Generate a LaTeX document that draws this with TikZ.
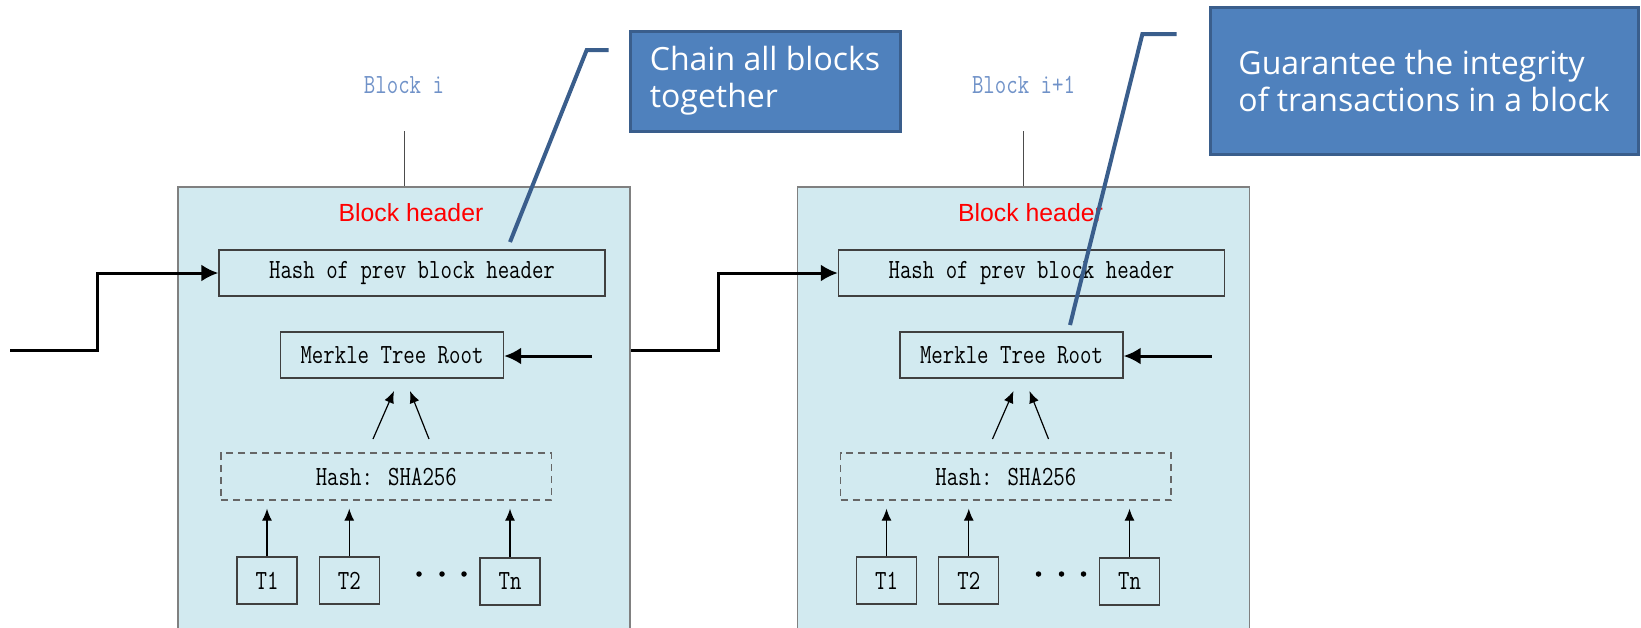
\documentclass[tikz,border=0pt]{standalone}
\usepackage{fontspec}
\usepackage{graphicx}
\newfontfamily\hdrfont{Liberation Sans}
\newfontfamily\notefont{Open Sans}
\usetikzlibrary{arrows.meta}
\definecolor{blockfill}{RGB}{210,234,240}
\definecolor{blockedge}{RGB}{128,128,128}
\definecolor{labelblue}{RGB}{112,146,200}
\definecolor{notefill}{RGB}{79,129,189}
\definecolor{noteedge}{RGB}{58,94,140}
\definecolor{hdrred}{RGB}{255,0,0}
% tall, narrow monospaced labels
\newcommand{\tallmono}[1]{\scalebox{1}[1.25]{#1}}
\begin{document}
\begin{tikzpicture}[x=1pt,y=-1pt,
  blockbox/.style={draw=blockedge, line width=1.5pt, fill=blockfill,
    minimum width=452pt, minimum height=449pt, anchor=north, inner sep=0pt},
  monofont/.style={font=\fontsize{22.2}{24}\selectfont\ttfamily},
  fieldbox/.style={monofont, draw=black!75, line width=1.3pt, fill=blockfill, inner sep=0pt},
  hashbox/.style={monofont, draw=black!60, line width=1.3pt,
    dash pattern=on 7pt off 5pt, inner sep=0pt},
  tbox/.style={fieldbox, minimum width=60pt, minimum height=47pt},
  blocklabel/.style={monofont, text=labelblue, anchor=base, inner sep=0pt},
  hdr/.style={font=\hdrfont\fontsize{24.8}{28}\selectfont, text=hdrred, anchor=base, inner sep=0pt},
  dot/.style={circle, fill=black, inner sep=0pt, minimum size=5.5pt},
  thin arrow/.style={-{Latex[length=12pt,width=10pt]}, line width=1.2pt},
  thick link/.style={-{Latex[length=17pt,width=17pt]}, line width=3pt},
  stem/.style={draw=black!70, line width=1pt},
  note/.style={draw=noteedge, line width=3pt, fill=notefill, text=white, align=left,
    inner sep=0pt, font=\notefont\fontsize{32}{37}\selectfont},
  leader/.style={draw=noteedge, line width=4pt},
]
\useasboundingbox (0,0) rectangle (1641,627);

% two blocks with identical content
\foreach \b/\dx/\name in {a/0/{Block i}, b/619.5/{Block i+1}} {
  \begin{scope}[xshift=\dx pt]
    \node[blockbox] (blk-\b) at (404,186) {};
    \node[blocklabel] (lbl-\b) at (404,93) {\tallmono{\name}};
    \coordinate (top-\b) at (404,131);
    \draw[stem] (top-\b) -- (blk-\b.north);
    \node[hdr] (hdr-\b) at (411,221) {Block header};
    \node[fieldbox, minimum width=386pt, minimum height=46pt] (prev-\b) at (412,273)
      {\tallmono{Hash of prev block header}};
    \node[fieldbox, minimum width=223pt, minimum height=46pt] (root-\b) at (392,355)
      {\tallmono{Merkle Tree Root}};
    \node[hashbox, minimum width=330.6pt, minimum height=47pt] (sha-\b) at (386.3,476.5)
      {\tallmono{Hash: SHA256}};
    \node[tbox] (t1-\b) at (267,580.5) {\tallmono{T1}};
    \node[tbox] (t2-\b) at (349.25,580.5) {\tallmono{T2}};
    \node[tbox] (tn-\b) at (510,581.5) {\tallmono{Tn}};
    \node[dot] (d1-\b) at (419,574) {};
    \node[dot] (d2-\b) at (442,574) {};
    \node[dot] (d3-\b) at (464,574) {};
    \foreach \t in {t1,t2,tn}
      \draw[thin arrow, shorten >=8pt] (\t-\b.north) -- (\t-\b.north |- sha-\b.south);
    % hashes combined into the root
    \coordinate (ha-\b) at (373,439);
    \coordinate (hb-\b) at (429,439);
    \coordinate (ra-\b) at (394,391);
    \coordinate (rb-\b) at (410,391);
    \draw[thin arrow] (ha-\b) -- (ra-\b);
    \draw[thin arrow] (hb-\b) -- (rb-\b);
    % root input
    \coordinate (in-\b) at (592,356);
    \draw[thick link] (in-\b) -- (in-\b -| root-\b.east);
  \end{scope}
}

% chain links between headers
\coordinate (entry) at (10,350);
\draw[thick link] (entry) -- ++(87.6,0) |- (prev-a.west);
\draw[thick link] (blk-a.east |- entry) -- ++(87.6,0) |- (prev-b.west);

% callouts
\node[note, minimum width=270pt, minimum height=100pt] (note1) at (765,81)
  {Chain all blocks\\together};
\node[note, minimum width=428pt, minimum height=147pt] (note2) at (1424,80.5)
  {Guarantee the integrity\\of transactions in a block};
\coordinate (n1a) at (608.5,50);
\coordinate (n1b) at (510,242);
\draw[leader] (n1a) -- (586.7,50) -- (n1b);
\coordinate (n2a) at (1176.5,34);
\coordinate (n2b) at (1070,325);
\draw[leader] (n2a) -- (1142.4,34) -- (n2b);
\end{tikzpicture}
\end{document}
